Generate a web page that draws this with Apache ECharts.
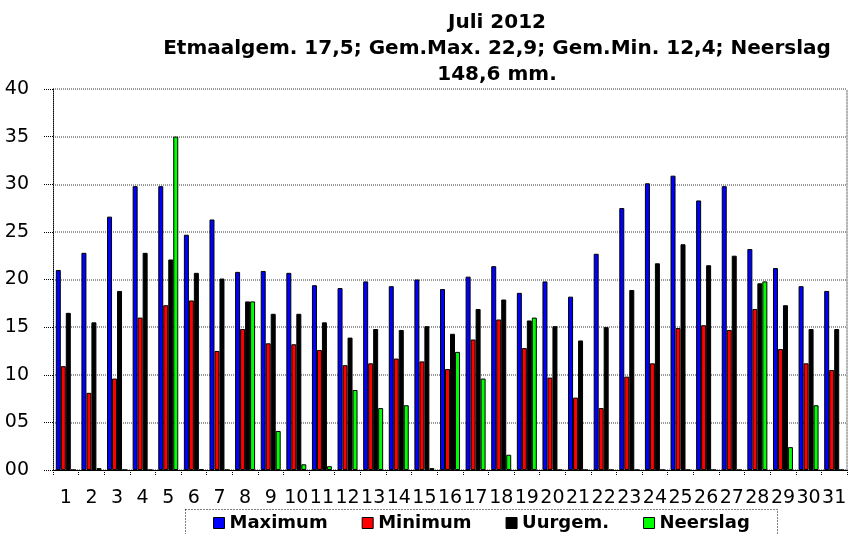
<!DOCTYPE html>
<html><head><meta charset="utf-8">
<script src="https://cdn.jsdelivr.net/npm/echarts@6/dist/echarts.min.js"></script>
<style>html,body{margin:0;padding:0;background:#fff}#c{width:859px;height:534px}</style>
</head><body><div id="c"></div>
<script>
const days = ['1','2','3','4','5','6','7','8','9','10','11','12','13','14','15','16','17','18','19','20','21','22','23','24','25','26','27','28','29','30','31'];
const maximum = [21.0,22.8,26.6,29.8,29.8,24.7,26.3,20.8,20.9,20.7,19.4,19.1,19.8,19.3,20.0,19.0,20.3,21.4,18.6,19.8,18.2,22.7,27.5,30.1,30.9,28.3,29.8,23.2,21.2,19.3,18.8];
const minimum = [10.9,8.1,9.6,16.0,17.3,17.8,12.5,14.8,13.3,13.2,12.6,11.0,11.2,11.7,11.4,10.6,13.7,15.8,12.8,9.7,7.6,6.5,9.8,11.2,14.9,15.2,14.7,16.9,12.7,11.2,10.5];
const uurgem = [16.5,15.5,18.8,22.8,22.1,20.7,20.1,17.7,16.4,16.4,15.5,13.9,14.8,14.7,15.1,14.3,16.9,17.9,15.7,15.1,13.6,15.0,18.9,21.7,23.7,21.5,22.5,19.6,17.3,14.8,14.8];
const neerslag = [0,0.2,0,0,35.0,0.1,0,17.7,4.1,0.6,0.4,8.4,6.5,6.8,0.2,12.4,9.6,1.6,16.0,0,0,0,0,0,0,0,0,19.8,2.4,6.8,0];
const yTicks = ['00','05','10','15','20','25','30','35','40'];
const titleLines = ['Juli 2012','Etmaalgem. 17,5; Gem.Max. 22,9; Gem.Min. 12,4; Neerslag','148,6 mm.'];

const chart = echarts.init(document.getElementById('c'), null, {renderer:'canvas'});
const FONT = 'DejaVu Sans';
function bar(name, data, color){
  return {name, type:'bar', data, barGap:'0%', barCategoryGap:'22%',
    itemStyle:{color, borderColor:'#000', borderWidth:1}, animation:false};
}
chart.setOption({
  animation:false,
  backgroundColor:'#fff',
  grid:{left:53, right:12, top:89, bottom:64},
  graphic:[
    {type:'text', x:497, y:10, style:{text:titleLines.join('\n'), font:'bold 20px "DejaVu Sans"', fill:'#000', textAlign:'center', textVerticalAlign:'top', lineHeight:26}},
    {type:'rect', shape:{x:185.5, y:509.5, width:592, height:40}, style:{fill:'none', stroke:'#000', lineWidth:1, lineDash:[1,2]}, z:-1}
  ],
  legend:{left:208, top:509, itemWidth:11, itemHeight:11, itemGap:34,
    textStyle:{fontFamily:FONT, fontWeight:'bold', fontSize:18, color:'#000'},
    icon:'rect', itemStyle:{borderColor:'#000', borderWidth:1},
    data:['Maximum','Minimum','Uurgem.','Neerslag']},
  xAxis:{type:'category', data:days,
    axisLine:{lineStyle:{color:'#000', width:1}},
    axisTick:{show:true, length:6, lineStyle:{color:'#000', type:'dotted'}},
    axisLabel:{interval:0, fontFamily:FONT, fontSize:19, color:'#000', margin:19, hideOverlap:false}},
  yAxis:[{type:'value', min:0, max:40, interval:5,
    axisLine:{show:true, lineStyle:{color:'#000', type:'dotted'}},
    axisTick:{show:true, length:10, lineStyle:{color:'#000', type:'dotted'}},
    axisLabel:{fontFamily:FONT, fontSize:19, color:'#000', margin:24, formatter:(v)=>yTicks[Math.round(v/5)]},
    splitLine:{show:true, lineStyle:{color:'#999', width:2, type:[1,1]}}},
    {type:'value', position:'right', min:0, max:40, interval:5,
    axisLine:{show:true, lineStyle:{color:'#999', type:'dotted', width:1.5}},
    axisTick:{show:false}, axisLabel:{show:false}, splitLine:{show:false}}],
  series:[bar('Maximum', maximum, '#0000ff'), bar('Minimum', minimum, '#ff0000'), bar('Uurgem.', uurgem, '#000000'), bar('Neerslag', neerslag, '#00ff00')]
});
</script></body></html>
